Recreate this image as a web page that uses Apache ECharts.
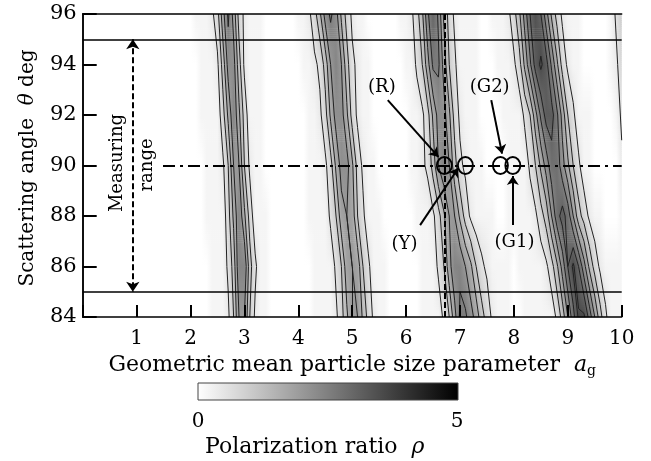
<!DOCTYPE html>
<html>
<head>
<meta charset="utf-8">
<script src="https://cdn.jsdelivr.net/npm/echarts@6/dist/echarts.min.js"></script>
<style>
html, body { margin: 0; padding: 0; background: #fff; }
#chart { width: 651px; height: 461px; }
</style>
</head>
<body>
<div id="chart"></div>
<script>
// scattering angle rows (deg), top to bottom
var angles = [96, 94, 92, 90, 88, 86, 84];
// polarization ratio: one char per 0.1 of a_g (0.0 .. 10.0),
// base-36 digit = 5 * rho
var rhoRows = [
    '0000000000 0000000000 0111249d94 2111000000 11247bdb74 2110000001 1247cfc742 1111001112 47bfhfb742 1110000013 5',
    '0000000000 0000000000 0011126bb6 2111000000 011236aca6 3211000000 11359dd953 1111000111 248cgigc84 2110000012 4',
    '0000000000 0000000000 00111148c8 4111000000 0011248bb8 4211000000 011248bb84 2111000011 11359dggd9 5311100001 3',
    '0000000000 0000000000 00011125aa 5211000000 00111248bb 8421100000 011236aca6 3211100001 111358beeb 8531100000 2',
    '0000000000 0000000000 000111148c 8411100000 001111359a 9531110000 00111247aa 7421111001 1111246aeg ea64211000 1',
    '0000000000 0000000000 000011136c c631100000 0001111359 a953111000 000111359c ca85321111 011111247b fifb742111 1',
    '0000000000 0000000000 000011125a a521100000 0001111247 aa74211000 0001111359 ddb9642111 0011111136 aeiiea6311 1'
];
var sizeStep = 0.1;
var rhoMax = 5;
var contourLevels = [0.5, 1.0, 1.5, 2.0, 2.5, 3.0, 3.5];

// measuring range and reference lines
var rangeAngles = [95, 85];
var centreAngle = 90;
var centreLineFrom = 1.49;
var peakSize = 6.72;
var rangeArrowSize = 0.93;

// sample points on the 90 deg line
var sampleSize = [6.71, 7.1, 7.75, 7.98];
var labelText = ['(R)', '(Y)', '(G2)', '(G1)'];
var labelAt = [[5.56, 93.07], [5.98, 86.85], [7.56, 93.07], [8.02, 86.93]];
var arrowFrom = [[5.66, 92.59], [6.26, 87.64], [7.58, 92.59], [7.98, 87.64]];
var arrowTo = [[6.6, 90.34], [6.97, 89.9], [7.78, 90.47], [7.98, 89.58]];

var serif = 'DejaVu Serif';

// grid of rho values
var rho = rhoRows.map(function (r) {
    return r.replace(/ /g, '').split('').map(function (c) { return parseInt(c, 36) / 5; });
});

function shade(v) {
    var g = Math.round(255 * (1 - Math.min(v, rhoMax) / rhoMax));
    return 'rgb(' + g + ',' + g + ',' + g + ')';
}

// contour lines (marching squares on the same grid)
function contours() {
    var segs = [];
    contourLevels.forEach(function (L) {
        for (var k = 0; k < angles.length - 1; k++) {
            for (var i = 0; i < rho[k].length - 1; i++) {
                var a = rho[k][i], b = rho[k][i + 1], c = rho[k + 1][i + 1], d = rho[k + 1][i];
                var x0 = i * sizeStep, x1 = (i + 1) * sizeStep, y0 = angles[k], y1 = angles[k + 1];
                var pts = [];
                var edge = function (v1, v2, p1, p2) {
                    if ((v1 >= L) !== (v2 >= L)) {
                        var t = (L - v1) / (v2 - v1);
                        pts.push([p1[0] + t * (p2[0] - p1[0]), p1[1] + t * (p2[1] - p1[1])]);
                    }
                };
                edge(a, b, [x0, y0], [x1, y0]);
                edge(b, c, [x1, y0], [x1, y1]);
                edge(c, d, [x1, y1], [x0, y1]);
                edge(d, a, [x0, y1], [x0, y0]);
                if (pts.length === 2) {
                    segs.push({coords: pts});
                } else if (pts.length === 4) {
                    segs.push({coords: [pts[0], pts[1]]});
                    segs.push({coords: [pts[2], pts[3]]});
                }
            }
        }
    });
    return segs;
}

var chart = echarts.init(document.getElementById('chart'), null, {renderer: 'canvas'});

var axisLineStyle = {color: '#000', width: 1.5};
var strips = 25;

var option = {
    backgroundColor: '#fff',
    animation: false,
    grid: {left: 82.7, right: 29.3, top: 14, bottom: 144},
    xAxis: [
        {
            type: 'value', min: 0, max: 10, interval: 1, z: 10,
            axisLine: {lineStyle: axisLineStyle},
            axisTick: {inside: true, length: 12, lineStyle: {color: '#000', width: 2}},
            axisLabel: {
                color: '#000', fontFamily: serif, fontSize: 20, margin: 12,
                formatter: function (v) { return v === 0 ? '' : v; }
            },
            splitLine: {show: false},
            name: 'Geometric mean particle size parameter  {i|a}{s|g}',
            nameLocation: 'middle',
            nameGap: 33,
            nameTextStyle: {
                color: '#000', fontFamily: serif, fontSize: 22,
                rich: {
                    i: {fontFamily: serif, fontSize: 22, fontStyle: 'italic', color: '#000'},
                    s: {fontFamily: serif, fontSize: 14, color: '#000', padding: [12, 0, 0, 0]}
                }
            }
        },
        {
            type: 'value', min: 0, max: 10, position: 'top', z: 10,
            axisLine: {lineStyle: axisLineStyle},
            axisTick: {show: false}, axisLabel: {show: false}, splitLine: {show: false}
        }
    ],
    yAxis: [
        {
            type: 'value', min: 84, max: 96, interval: 2, z: 10,
            axisLine: {lineStyle: axisLineStyle},
            axisTick: {inside: true, length: 14, lineStyle: {color: '#000', width: 2}},
            axisLabel: {color: '#000', fontFamily: serif, fontSize: 21, margin: 6},
            splitLine: {show: false}
        },
        {
            type: 'value', min: 84, max: 96, position: 'right', z: 10,
            axisLine: {lineStyle: axisLineStyle},
            axisTick: {show: false}, axisLabel: {show: false}, splitLine: {show: false}
        }
    ],
    series: [
        {
            // shaded field: one item per pair of neighbouring angle rows
            type: 'custom',
            z: 1,
            silent: true,
            data: angles.slice(1).map(function (a, k) { return [0, angles[k], a]; }),
            encode: {x: 0, y: 1},
            renderItem: function (params, api) {
                var k = params.dataIndex;
                var p0 = api.coord([0, angles[k]]);
                var p1 = api.coord([10, angles[k + 1]]);
                var h = (p1[1] - p0[1]) / strips;
                var children = [];
                for (var s = 0; s < strips; s++) {
                    var w = (s + 0.5) / strips;
                    var stops = rho[k].map(function (v, i) {
                        return {offset: i / (rho[k].length - 1), color: shade(v * (1 - w) + rho[k + 1][i] * w)};
                    });
                    children.push({
                        type: 'rect',
                        shape: {x: p0[0], y: p0[1] + s * h, width: p1[0] - p0[0], height: h + 0.6},
                        style: {fill: new echarts.graphic.LinearGradient(0, 0, 1, 0, stops)}
                    });
                }
                return {type: 'group', children: children};
            }
        },
        {
            type: 'lines',
            coordinateSystem: 'cartesian2d',
            z: 2,
            silent: true,
            polyline: false,
            lineStyle: {color: '#222', width: 1, opacity: 1},
            data: contours()
        },
        {
            type: 'lines',
            coordinateSystem: 'cartesian2d',
            z: 3,
            silent: true,
            lineStyle: {color: '#000', width: 1.6, opacity: 1},
            data: rangeAngles.map(function (a) { return {coords: [[0, a], [10, a]]}; })
        },
        {
            type: 'lines',
            coordinateSystem: 'cartesian2d',
            z: 3,
            silent: true,
            lineStyle: {color: '#000', width: 2, type: [6, 3], opacity: 1},
            data: [{coords: [[peakSize, 84], [peakSize, 96]]}]
        },
        {
            type: 'lines',
            coordinateSystem: 'cartesian2d',
            z: 3,
            silent: true,
            lineStyle: {color: '#000', width: 2, type: [12, 5, 3, 5], opacity: 1},
            data: [{coords: [[centreLineFrom, centreAngle], [10, centreAngle]]}]
        },
        {
            type: 'lines',
            coordinateSystem: 'cartesian2d',
            z: 4,
            silent: true,
            symbol: ['arrow', 'arrow'],
            symbolSize: 10,
            lineStyle: {color: '#000', width: 2, type: [6, 3], opacity: 1},
            data: [{coords: [[rangeArrowSize, rangeAngles[0]], [rangeArrowSize, rangeAngles[1]]]}]
        },
        {
            type: 'lines',
            coordinateSystem: 'cartesian2d',
            z: 4,
            silent: true,
            symbol: ['none', 'arrow'],
            symbolSize: 9,
            lineStyle: {color: '#000', width: 2, opacity: 1},
            data: arrowFrom.map(function (p, i) { return {coords: [p, arrowTo[i]]}; })
        },
        {
            type: 'scatter',
            z: 5,
            silent: true,
            symbol: 'circle',
            symbolSize: [15, 17],
            itemStyle: {color: 'rgba(0,0,0,0)', borderColor: '#000', borderWidth: 2, opacity: 1},
            data: sampleSize.map(function (s) { return [s, centreAngle]; })
        },
        {
            type: 'scatter',
            z: 6,
            silent: true,
            symbolSize: 1,
            itemStyle: {color: 'rgba(0,0,0,0)', opacity: 1},
            label: {
                show: true, position: [0, 0], align: 'center', verticalAlign: 'middle',
                color: '#000', opacity: 1, textBorderWidth: 0, fontFamily: serif, fontSize: 18,
                formatter: function (p) { return labelText[p.dataIndex]; }
            },
            data: labelAt
        }
    ],
    graphic: [
        {
            type: 'text', x: 28, y: 168, rotation: Math.PI / 2, z: 20,
            style: {
                text: 'Scattering angle  {i|θ} deg', fill: '#000', font: '20px "DejaVu Serif"',
                align: 'center', verticalAlign: 'middle',
                rich: {i: {font: 'italic 20px "DejaVu Serif"', fill: '#000'}}
            }
        },
        {
            type: 'text', x: 117, y: 163, rotation: Math.PI / 2, z: 20,
            style: {text: 'Measuring', fill: '#000', font: '18px "DejaVu Serif"', align: 'center', verticalAlign: 'middle'}
        },
        {
            type: 'text', x: 147, y: 165, rotation: Math.PI / 2, z: 20,
            style: {text: 'range', fill: '#000', font: '18px "DejaVu Serif"', align: 'center', verticalAlign: 'middle'}
        },
        {
            type: 'rect', z: 20,
            shape: {x: 198, y: 383, width: 260, height: 17},
            style: {
                fill: new echarts.graphic.LinearGradient(0, 0, 1, 0, [
                    {offset: 0, color: shade(0)}, {offset: 1, color: shade(rhoMax)}
                ]),
                stroke: '#444', lineWidth: 1
            }
        },
        {
            type: 'text', x: 198, y: 422, z: 20,
            style: {text: '0', fill: '#000', font: '20px "DejaVu Serif"', align: 'center', verticalAlign: 'middle'}
        },
        {
            type: 'text', x: 457, y: 422, z: 20,
            style: {text: String(rhoMax), fill: '#000', font: '20px "DejaVu Serif"', align: 'center', verticalAlign: 'middle'}
        },
        {
            type: 'text', x: 205, y: 447, z: 20,
            style: {
                text: 'Polarization ratio  {i|ρ}', fill: '#000', font: '22px "DejaVu Serif"',
                align: 'left', verticalAlign: 'middle',
                rich: {i: {font: 'italic 22px "DejaVu Serif"', fill: '#000'}}
            }
        }
    ]
};

chart.setOption(option);
</script>
</body>
</html>
